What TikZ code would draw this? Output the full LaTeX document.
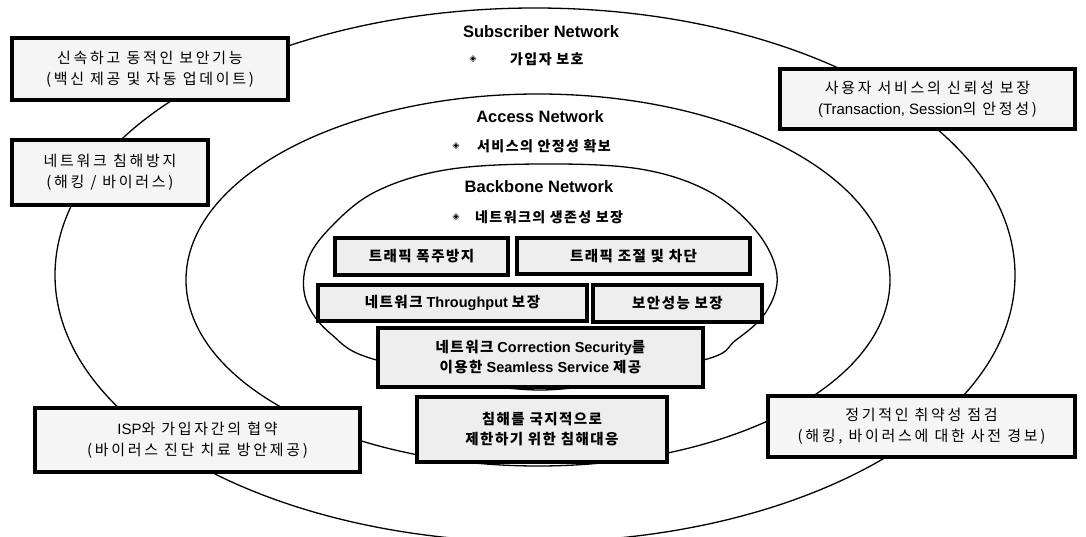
\documentclass[tikz,border=0pt]{standalone}
\usepackage{fontspec}
\setmainfont{Liberation Sans}
\newfontfamily\krO[LetterSpace=18]{Noto Sans CJK KR}
\newfontfamily\krI[LetterSpace=10]{Noto Sans CJK KR}
\newfontfamily\krH[LetterSpace=10]{Noto Sans CJK KR}
\newfontfamily\symf{DejaVu Sans}
\begin{document}
\begin{tikzpicture}[x=1pt,y=-1pt,
  ring/.style={line width=1.3pt},
  outbox/.style={draw, line width=3.5pt, fill=gray!8, inner sep=0pt, align=center,
    font=\fontsize{15}{21}\selectfont},
  inbox/.style={draw, line width=3.5pt, fill=gray!13, inner sep=0pt, align=center,
    font=\fontsize{14.5}{20}\selectfont\bfseries},
  head/.style={font=\fontsize{16.5}{20}\selectfont\bfseries, inner sep=0pt},
  sub/.style={font=\fontsize{14}{18}\selectfont\bfseries\krH, inner sep=0pt, anchor=west},
  bul/.style={font=\fontsize{9}{9}\selectfont\symf, inner sep=0pt}]
\useasboundingbox (0,0) rectangle (1086,537);
\begin{scope}
\clip (0,0) rectangle (1086,537);
\draw[ring] (535,275) ellipse [x radius=480pt, y radius=267pt];
\draw[ring] (538,280) ellipse [x radius=352pt, y radius=186pt];
\draw[ring] plot[smooth cycle, tension=0.6] coordinates {
  (540,164) (640,169) (710,192) (757,232) (777,275) (766,312) (736,340)
  (700,361) (540,390) (380,361) (331,334) (306,300) (307,262)
  (330,228) (375,192) (445,170)};
\end{scope}
% headings
\node[head] (hs) at (541,32) {Subscriber Network};
\node[bul] (bs) at (473,59) {◈};
\node[sub] (ts) at (510,59) {가입자 보호};
\node[head] (ha) at (540,117) {Access Network};
\node[bul] (ba) at (456,146) {◈};
\node[sub] (ta) at (477,146) {서비스의 안정성 확보};
\node[head] (hb) at (539,187) {Backbone Network};
\node[bul] (bb) at (456,217) {◈};
\node[sub] (tb) at (475,217) {네트워크의 생존성 보장};
% outer boxes
\node[outbox, minimum width=276pt, minimum height=62pt] (b1) at (150,69)
  {{\krO 신속하고 동적인 보안기능}\\{\krO (백신 제공 및 자동 업데이트)}};
\node[outbox, minimum width=196pt, minimum height=65pt] (b2) at (110,172.5)
  {{\krO 네트워크 침해방지}\\{\krO (해킹 / 바이러스)}};
\node[outbox, minimum width=295pt, minimum height=60pt] (b3) at (927.5,99)
  {{\krO 사용자 서비스의 신뢰성 보장}\\(Transaction, Session{\krO 의 안정성)}};
\node[outbox, minimum width=325pt, minimum height=64pt] (b4) at (197.5,440)
  {ISP{\krO 와 가입자간의 협약}\\{\krO (바이러스 진단 치료 방안제공)}};
\node[outbox, minimum width=307pt, minimum height=61pt] (b5) at (921.5,426.5)
  {{\krO 정기적인 취약성 점검}\\{\krO (해킹, 바이러스에 대한 사전 경보)}};
% inner boxes
\node[inbox, minimum width=173pt, minimum height=37pt] (ia) at (421.5,256.5)
  {\krI 트래픽 폭주방지};
\node[inbox, minimum width=233pt, minimum height=36pt] (ib) at (633.5,256)
  {\krI 트래픽 조절 및 차단};
\node[inbox, minimum width=269pt, minimum height=36pt] (ic) at (452.5,303)
  {{\krI 네트워크} Throughput {\krI 보장}};
\node[inbox, minimum width=169pt, minimum height=37pt] (id) at (677.5,303.5)
  {\krI 보안성능 보장};
\node[inbox, minimum width=325pt, minimum height=59pt] (ie) at (540.5,357.5)
  {{\krI 네트워크} Correction Security{\krI 를}\\{\krI 이용한} Seamless Service {\krI 제공}};
\node[inbox, minimum width=250pt, minimum height=65pt] (if) at (542,429.5)
  {{\krI 침해를 국지적으로}\\{\krI 제한하기 위한 침해대응}};
\end{tikzpicture}
\end{document}
